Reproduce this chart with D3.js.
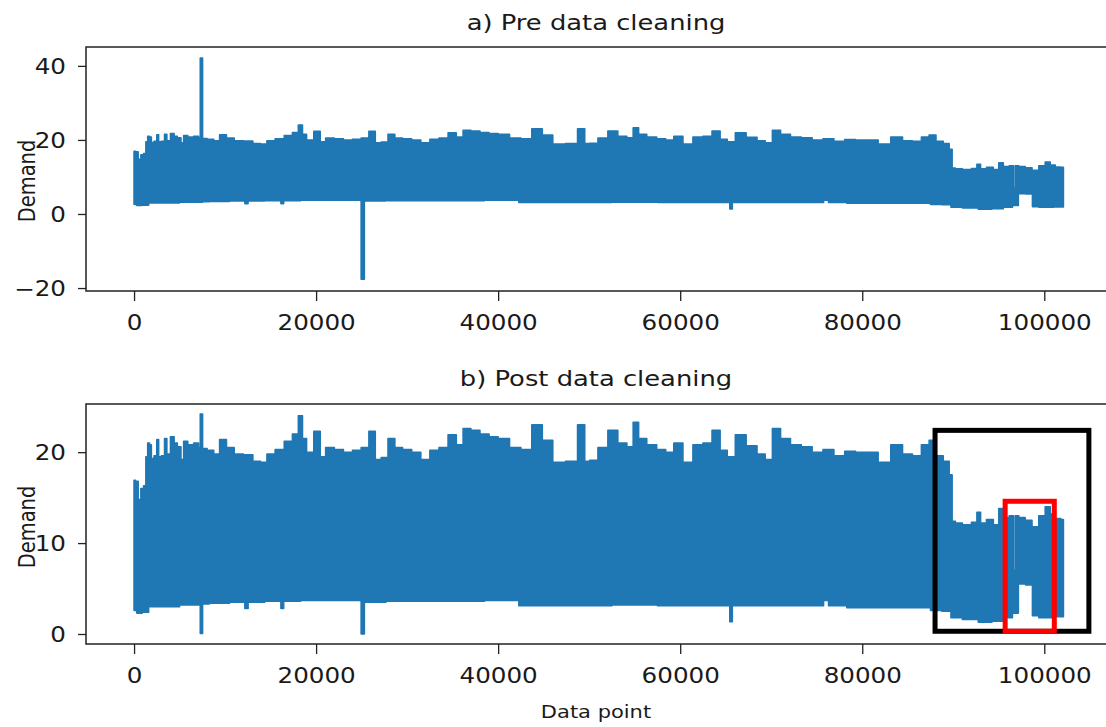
<!DOCTYPE html>
<html>
<head>
<meta charset="utf-8">
<script src="https://cdn.jsdelivr.net/npm/d3@7"></script>
<style>
  body { margin: 0; background: #fff; }
  text { font-family: "DejaVu Sans", sans-serif; fill: #1a1a1a; }
</style>
</head>
<body>
<div class="chart"></div>
<script>
//----Data----
// upper envelope of the demand trace (post cleaning)
const hiX = [0,300,600,900,1200,1400,1600,1800,2000,2400,2600,2800,3200,3500,3700,4300,4500,5000,5300,5600,6200,6900,7250,7300,7500,7550,8500,9000,9800,10500,11500,12500,13600,14200,15000,16000,17000,17800,18300,18700,19200,20300,20600,21500,22500,23500,24500,25400,26200,26800,27500,28300,29000,30000,31000,32000,33000,34000,35000,35800,36500,37500,38500,39500,40500,42000,43000,44400,45300,46700,48100,49350,49670,50470,51460,52650,53640,54640,55030,55830,56820,58010,58800,59800,60800,62000,63000,64000,64770,65560,66550,67940,68940,69730,70530,71520,72710,73900,75090,76290,77480,78670,79860,81050,82440,83830,85020,86000,87000,87700,88500,89300,89800,89950,90500,91500,92500,92700,93300,94000,94800,95200,95800,96500,96700,96900,97500,98300,99000,99800,100400,100900,101500,102100]
const hiVal = [16.9,16.8,14.8,16.0,16.3,19.5,21.0,20.8,19.3,19.6,21.4,19.5,19.6,21.5,19.8,21.7,21.0,20.6,19.2,21.2,20.8,21.0,20.5,24.2,24.2,20.4,20.2,19.8,21.4,20.5,19.8,19.7,19.0,18.9,19.8,20.3,21.2,22.0,24.0,21.5,20.0,22.3,19.5,20.5,20.3,20.0,20.2,20.5,22.3,19.2,19.4,21.5,20.5,20.3,20.0,19.2,20.2,20.5,21.9,20.8,22.6,22.4,22.0,21.7,21.5,20.5,20.3,23.0,21.3,18.9,19.0,23.0,19.0,19.1,20.5,22.4,21.0,20.6,23.3,21.5,20.8,20.3,20.0,21.0,18.9,20.8,21.0,22.4,20.2,19.5,21.9,20.7,19.8,19.2,22.6,21.5,20.8,20.6,20.0,20.3,19.6,20.1,20.0,20.0,18.9,20.8,19.8,19.6,20.8,21.3,19.6,19.0,17.5,12.4,12.2,12.0,12.3,13.4,12.2,12.6,12.0,13.8,12.8,13.0,7.0,13.0,12.8,12.5,11.8,13.0,14.0,13.2,12.7,12.6]

// lower envelope (post cleaning)
const loX = [0,600,1200,2000,4000,6000,7250,7300,7500,7550,9000,12000,12350,12700,16000,16270,16600,20000,24900,25000,25250,25350,27600,27750,27900,35000,42000,42550,50000,55000,60000,65400,65500,65650,65800,70000,75500,76000,76600,80000,85000,87000,88000,89500,90000,92000,93500,95000,96000,97000,97300,98600,98800,100000,102100]
const loVal = [2.6,2.3,2.4,3.0,3.0,3.2,3.2,0.05,0.05,3.3,3.4,3.5,2.8,3.5,3.6,2.8,3.6,3.7,3.7,0.0,0.0,3.5,3.5,5.0,3.6,3.6,3.7,3.1,3.1,3.2,3.1,3.1,1.35,1.35,3.1,3.1,3.1,3.7,3.1,2.9,2.9,2.9,2.6,2.5,1.8,1.6,1.3,1.4,1.8,2.3,5.5,5.4,2.0,1.8,1.9]

// raw values that differ before cleaning (outliers)
const preHiX = [7300, 7500]
const preHiVal = [42.1, 42.1]
const preLoX = [7300, 7500, 25000, 25250]
const preLoVal = [3.2, 3.2, -17.6, -17.6]

const xTicks = [0, 20000, 40000, 60000, 80000, 100000]
const yTicksPre = [-20, 0, 20, 40]
const yTicksPost = [0, 10, 20]

// highlight boxes on the cleaned plot: [x0, x1, y0, y1]
const blackBox = [88000, 104900, 0.3, 22.4]
const redBox = [95700, 101100, 0.3, 14.6]

//----Chart----
const width = 1106, height = 727
const blue = "#1f77b4"
const stretch = 1.2   // the picture's text is wider than it is tall

const svg = d3.select(".chart").append("svg")
    .attr("width", width)
    .attr("height", height)

const xScale = d3.scaleLinear().domain([-5280, 107000]).range([86, 1108])

function overrideVals(xs, vals, ox, ov) {
    return xs.map((x, i) => {
        const k = ox.indexOf(x)
        return k >= 0 ? ov[k] : vals[i]
    })
}

function label(g, x, y, str, size, anchor, rot) {
    g.append("text")
        .attr("transform", `translate(${x},${y}) scale(${stretch},1)` + (rot ? ` rotate(${rot})` : ""))
        .attr("text-anchor", anchor)
        .style("font-size", size + "px")
        .text(str)
}

function panel(opts) {
    const yScale = d3.scaleLinear().domain(opts.yDomain).range([opts.bottom, opts.top])
    const g = svg.append("g")

    // trace drawn as band between lower and upper envelope
    const upper = hiX.map((x, i) => [x, opts.hi[i]])
    const lower = loX.map((x, i) => [x, opts.lo[i]]).reverse()
    const line = d3.line().curve(d3.curveStep).x(d => xScale(d[0])).y(d => yScale(d[1]))

    g.append("path")
        .attr("d", line(upper) + line(lower).replace(/^M/, "L") + "Z")
        .attr("fill", blue)
        .attr("stroke", blue)
        .attr("stroke-width", 1.6)
        .attr("stroke-linejoin", "round")

    // frame
    g.append("rect")
        .attr("x", xScale.range()[0]).attr("y", opts.top)
        .attr("width", xScale.range()[1] - xScale.range()[0])
        .attr("height", opts.bottom - opts.top)
        .attr("fill", "none").attr("stroke", "#222").attr("stroke-width", 1.5)

    const xAxis = d3.axisBottom(xScale).tickValues(xTicks).tickSize(10).tickSizeOuter(0).tickFormat(d3.format("d"))
    const gx = g.append("g").attr("transform", `translate(0,${opts.bottom})`).call(xAxis)
    gx.select(".domain").remove()
    gx.selectAll("line").attr("stroke", "#222").attr("stroke-width", 1.3)
    gx.selectAll("text")
        .attr("y", 39).attr("dy", 0)
        .attr("transform", `scale(${stretch},1)`)
        .style("font-size", "20.5px").attr("fill", "#1a1a1a")

    const yAxis = d3.axisLeft(yScale).tickValues(opts.yTicks).tickSize(8).tickSizeOuter(0).tickFormat(d3.format("d"))
    const gy = g.append("g").attr("transform", `translate(${xScale.range()[0]},0)`).call(yAxis)
    gy.select(".domain").remove()
    gy.selectAll("line").attr("stroke", "#222").attr("stroke-width", 1.3)
    gy.selectAll("text")
        .attr("x", -20 / stretch).attr("dy", "0.36em")
        .attr("transform", `scale(${stretch},1)`)
        .text(d => d < 0 ? "\u2212" + Math.abs(d) : d)
        .style("font-size", "20.5px").attr("fill", "#1a1a1a")

    label(g, 596, opts.titleY, opts.title, 21.5, "middle")
    label(g, 35, opts.ylabelY, "Demand", 19.5, "middle", -90)
    return {g, yScale}
}

// a) before cleaning
panel({
    top: 47, bottom: 291, yDomain: [-20.8, 45.1], yTicks: yTicksPre,
    hi: overrideVals(hiX, hiVal, preHiX, preHiVal),
    lo: overrideVals(loX, loVal, preLoX, preLoVal),
    title: "a) Pre data cleaning", titleY: 30, ylabelY: 181
})

// b) after cleaning
const post = panel({
    top: 404, bottom: 644, yDomain: [-1.1, 25.3], yTicks: yTicksPost,
    hi: hiVal, lo: loVal,
    title: "b) Post data cleaning", titleY: 386, ylabelY: 527
})

label(svg, 596, 718, "Data point", 17.5, "middle")

// highlight boxes
;[[blackBox, "#000"], [redBox, "#ff0000"]].forEach(([b, c]) => {
    post.g.append("rect")
        .attr("x", xScale(b[0]))
        .attr("y", post.yScale(b[3]))
        .attr("width", xScale(b[1]) - xScale(b[0]))
        .attr("height", post.yScale(b[2]) - post.yScale(b[3]))
        .attr("fill", "none")
        .attr("stroke", c)
        .attr("stroke-width", 5)
})
</script>
</body>
</html>
